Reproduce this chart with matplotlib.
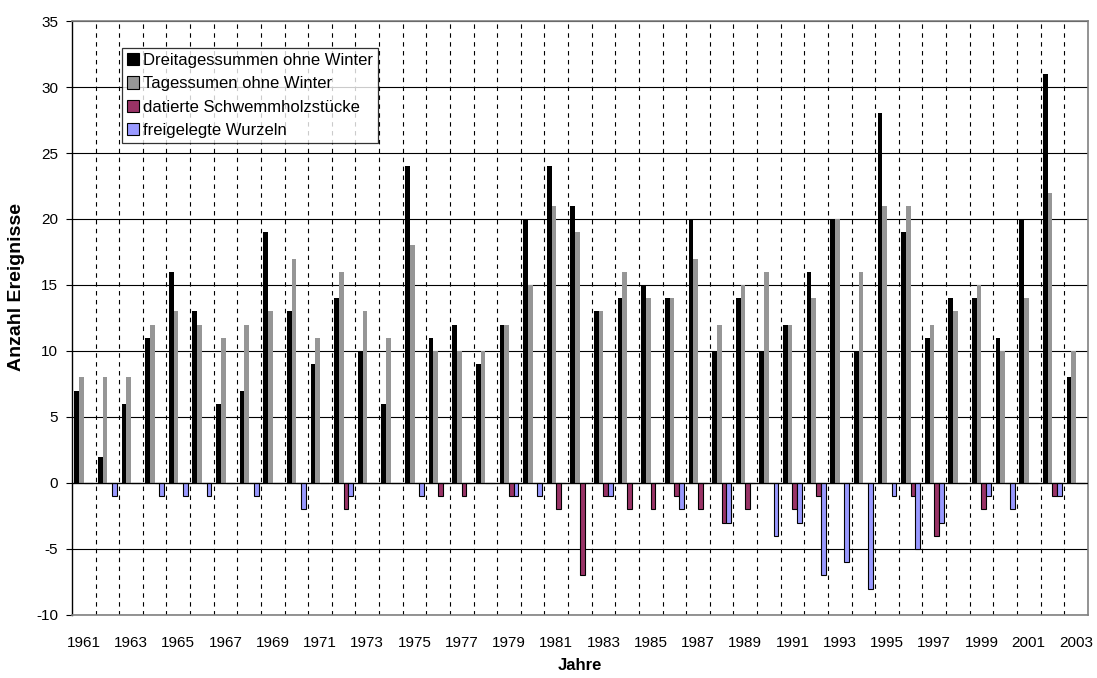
import numpy as np
import matplotlib
matplotlib.use("Agg")
import matplotlib.pyplot as plt

plt.rcParams['font.family'] = ['Liberation Sans', 'DejaVu Sans']
plt.rcParams['axes.unicode_minus'] = False

years = list(range(1961, 2004))
dreitag = [7, 2, 6, 11, 16, 13, 6, 7, 19, 13, 9, 14, 10, 6, 24, 11, 12, 9, 12, 20,
           24, 21, 13, 14, 15, 14, 20, 10, 14, 10, 12, 16, 20, 10, 28, 19, 11, 14, 14, 11,
           20, 31, 8]
tages = [8, 8, 8, 12, 13, 12, 11, 12, 13, 17, 11, 16, 13, 11, 18, 10, 10, 10, 12, 15,
         21, 19, 13, 16, 14, 14, 17, 12, 15, 16, 12, 14, 20, 16, 21, 21, 12, 13, 15, 10,
         14, 22, 10]
schwemmholz = [0, 0, 0, 0, 0, 0, 0, 0, 0, 0, 0, -2, 0, 0, 0, -1, -1, 0, -1, 0,
               -2, -7, -1, -2, -2, -1, -2, -3, -2, 0, -2, -1, 0, 0, 0, -1, -4, 0, -2, 0,
               0, -1, 0]
wurzeln = [0, -1, 0, -1, -1, -1, 0, -1, 0, -2, 0, -1, 0, 0, -1, 0, 0, 0, -1, -1,
           0, 0, -1, 0, 0, -2, 0, -3, 0, -4, -3, -7, -6, -8, -1, -5, -3, 0, -1, -2,
           0, -1, 0]

series = [
    ("Dreitagessummen ohne Winter", dreitag, "#000000", "none"),
    ("Tagessumen ohne Winter", tages, "#969696", "none"),
    ("datierte Schwemmholzstücke", schwemmholz, "#993366", "#000000"),
    ("freigelegte Wurzeln", wurzeln, "#9999FF", "#000000"),
]

W, H = 1097, 678
fig = plt.figure(figsize=(W / 100, H / 100), dpi=100)
ax = fig.add_axes([0.0656, 0.0930, 0.926, 0.8760])

x = np.arange(len(years))
bw = 0.2
offsets = [-0.3, -0.1, 0.1, 0.3]
handles = []
for (label, vals, color, ec), off in zip(series, offsets):
    h = ax.bar(x + off, vals, width=bw, color=color, edgecolor=ec,
               linewidth=0.8 if ec != "none" else 0, label=label, zorder=3)
    handles.append(h)

ax.set_xlim(-0.5, len(years) - 0.5)
ax.set_ylim(-10, 35)
ax.set_yticks(np.arange(-10, 36, 5))
ax.yaxis.grid(True, color="black", linewidth=0.8, zorder=1)
for b in np.arange(0.5, len(years) - 0.5, 1):
    ax.axvline(b, color="black", linewidth=0.8, linestyle=(0, (4, 4)), zorder=1)
ax.axhline(0, color="black", linewidth=0.9, zorder=4)

ax.set_xticks(x[::2])
ax.set_xticklabels([str(y) for y in years[::2]], fontsize=11)
ax.tick_params(axis="x", length=0, pad=15)
ax.tick_params(axis="y", labelsize=11, length=4, width=0.8, direction="out", pad=6)

for side in ["top", "right", "bottom"]:
    ax.spines[side].set_color("#808080")
    ax.spines[side].set_linewidth(1.2)
ax.spines["left"].set_color("black")
ax.spines["left"].set_linewidth(1.0)

# axis titles placed in figure pixels
fig.text((72 + 1088) / 2 / W, 1 - 666 / H, "Jahre", fontsize=12, fontweight="bold",
         ha="center", va="center")
fig.text(17 / W, 1 - 287 / H, "Anzahl Ereignisse", fontsize=14, fontweight="bold",
         ha="center", va="center", rotation=90)

leg = ax.legend(handles=handles, loc="upper left", bbox_to_anchor=(0.049, 0.9545),
                fontsize=12, frameon=True, fancybox=False, borderpad=0.3,
                handlelength=0.75, handleheight=0.75, handletextpad=0.2,
                labelspacing=0.5, borderaxespad=0)
leg.get_frame().set_edgecolor("black")
leg.get_frame().set_linewidth(0.9)
leg.set_zorder(10)
for p in leg.get_patches():
    p.set_edgecolor("black")
    p.set_linewidth(0.8)

fig.savefig("out.png", dpi=100, facecolor="white")
